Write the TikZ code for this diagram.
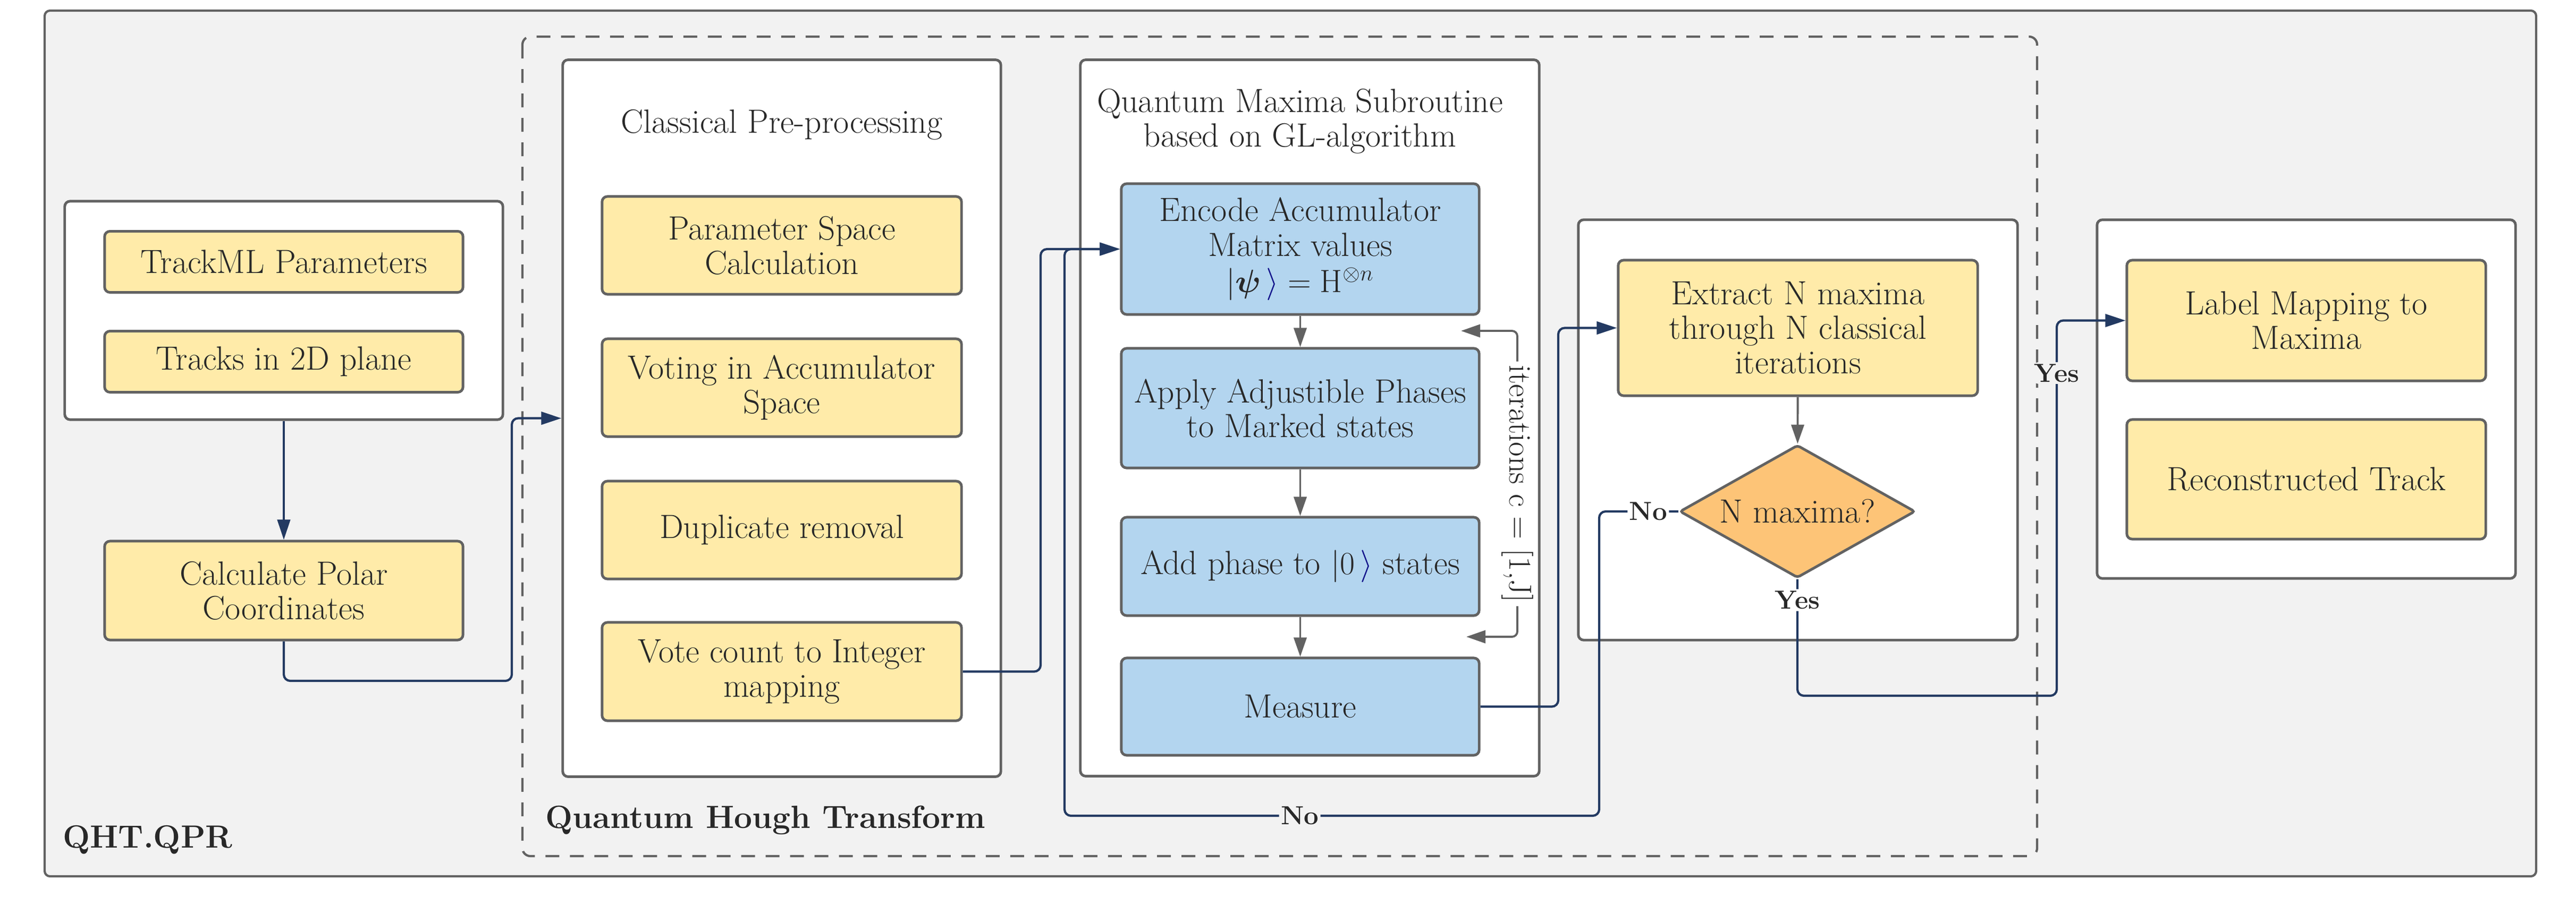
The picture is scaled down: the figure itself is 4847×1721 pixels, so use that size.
\documentclass[tikz,border=0pt]{standalone}
\usepackage{amsmath,amssymb}
\usepackage{tikz}
\usetikzlibrary{shapes.geometric}
\usetikzlibrary{arrows.meta}
\definecolor{bggray}{HTML}{F2F2F2}
\definecolor{edge}{HTML}{626262}
\definecolor{txt}{HTML}{282828}
\definecolor{boxyellow}{HTML}{FFEBA9}
\definecolor{boxblue}{HTML}{B3D5EF}
\definecolor{decorange}{HTML}{FDC477}
\definecolor{navy}{HTML}{233A62}
\definecolor{ketblue}{HTML}{10108A}
\newcommand{\boxfont}{\fontsize{18}{18.5}\selectfont}
\newcommand{\itfont}{\fontsize{17}{18}\selectfont}
\newcommand{\headfont}{\fontsize{17.2}{18}\selectfont\bfseries}
\newcommand{\lblfont}{\fontsize{14}{15}\selectfont\bfseries}

\begin{document}
\begin{tikzpicture}[x=0.01cm,y=-0.01cm,
  panel/.style={draw=edge,line width=1.4pt,fill=white,rounded corners=0.1cm,inner sep=0},
  ybox/.style={draw=edge,line width=1.4pt,fill=boxyellow,rounded corners=0.1cm,minimum width=6.74cm,align=center,text=txt,font=\boxfont},
  bbox/.style={ybox,fill=boxblue,minimum width=6.73cm},
  title/.style={align=center,text=txt,font=\boxfont},
  flow/.style={draw=navy,line width=1.2pt,rounded corners=0.12cm,-{Triangle[length=0.38cm,width=0.24cm]}},
  grayflow/.style={draw=edge,line width=1.1pt,-{Triangle[length=0.36cm,width=0.24cm]}},
  lbl/.style={text=txt,font=\lblfont,inner sep=1pt}]
\useasboundingbox (0,0) rectangle (4847,1721);
% frames
\draw[edge,fill=bggray,line width=1.2pt,rounded corners=0.1cm] (84,20) rectangle (4772,1650);
\draw[edge,line width=1.2pt,dashed,dash pattern=on 0.26cm off 0.2cm,rounded corners=0.15cm] (983,69) rectangle (3833,1612);
\node[text=txt,font=\headfont,anchor=west] (qpr) at (106,1581) {QHT.QPR};
\node[text=txt,font=\headfont,anchor=west] (qht) at (1014,1544) {Quantum Hough Transform};

% panels
\node[panel,minimum width=8.24cm,minimum height=4.11cm] (inbox) at (534,584.5) {};
\node[panel,minimum width=8.24cm,minimum height=13.49cm] (classical) at (1471,787.5) {};
\node[panel,minimum width=8.63cm,minimum height=13.48cm] (qms) at (2464.5,787) {};
\node[panel,minimum width=8.26cm,minimum height=7.91cm] (extbox) at (3383,809.5) {};
\node[panel,minimum width=7.87cm,minimum height=6.75cm] (outbox) at (4339.5,751.5) {};

% input
\node[ybox,minimum height=1.15cm] (trackml) at (534,493) {TrackML Parameters};
\node[ybox,minimum height=1.15cm] (tracks) at (534,681) {Tracks in 2D plane};
\node[ybox,minimum height=1.86cm] (polar) at (534,1112) {Calculate Polar\\Coordinates};

% classical pre-processing
\node[title] (ctitle) at (1471,235) {Classical Pre-processing};
\node[ybox,minimum width=6.76cm,minimum height=1.84cm] (param) at (1471,462) {Parameter Space\\Calculation};
\node[ybox,minimum width=6.76cm,minimum height=1.84cm] (voting) at (1471,730) {Voting in Accumulator\\Space};
\node[ybox,minimum width=6.76cm,minimum height=1.84cm] (dup) at (1471,998) {Duplicate removal};
\node[ybox,minimum width=6.76cm,minimum height=1.85cm] (vote) at (1471,1264.5) {Vote count to Integer\\mapping};

% quantum maxima subroutine
\node[title] (qtitle) at (2446,228) {Quantum Maxima Subroutine\\based on GL-algorithm};
\node[bbox,minimum height=2.46cm] (encode) at (2446.5,469) {Encode Accumulator\\Matrix values\\[1pt]$|\boldsymbol{\psi}\,\textcolor{ketblue}{\rangle}=\mathrm{H}^{\otimes n}$};
\node[bbox,minimum height=2.25cm] (apply) at (2446.5,768.5) {Apply Adjustible Phases\\to Marked states};
\node[bbox,minimum height=1.85cm] (addph) at (2446.5,1066.5) {Add phase to $|0\,\textcolor{ketblue}{\rangle}$ states};
\node[bbox,minimum height=1.83cm] (measure) at (2446.5,1330.5) {Measure};

% maxima extraction
\node[ybox,minimum width=6.76cm,minimum height=2.55cm] (extract) at (3383,617.5) {Extract N maxima\\through N classical\\iterations};
\node[diamond,draw=edge,line width=1.4pt,fill=decorange,text=txt,font=\boxfont,aspect=1.77,inner sep=0,minimum width=4.43cm,minimum height=2.5cm,rounded corners=0.05cm] (decide) at (3382,963) {N maxima?};

% output
\node[ybox,minimum width=6.75cm,minimum height=2.27cm] (labelmap) at (4339.5,603.5) {Label Mapping to\\Maxima};
\node[ybox,minimum width=6.75cm,minimum height=2.25cm] (recon) at (4339.5,902.5) {Reconstructed Track};

% connectors
\coordinate (c1) at (963,1282);
\coordinate (c2) at (1958,1264.5);
\coordinate (c3) at (2932,1330.5);
\coordinate (n1) at (3009,1536);
\coordinate (n2) at (2003,1536);
\coordinate (y1) at (3382,1310);
\coordinate (y2) at (3870,1310);
\coordinate (y3) at (3870,603.5);
\draw[flow] (inbox.south) -- (polar.north);
\draw[flow] (polar.south) |- (c1) |- (classical.west);
\draw[flow] (vote.east) -- (c2) |- (encode.west);
\draw[flow] (measure.east) -- (c3) |- (extract.west);
\draw[flow] (decide.west) -| node[lbl,fill=white,pos=0.19]{No} (n1) -- node[lbl,fill=bggray,pos=0.56]{No} (n2) |- (encode.west);
\draw[flow] (decide.south) -- node[lbl,fill=white,pos=0.18]{Yes} (y1) -- (y2) -- node[lbl,fill=bggray,pos=0.86]{Yes} (y3) -- (labelmap.west);

% inner steps
\draw[grayflow] (encode) -- (apply);
\draw[grayflow] (apply) -- (addph);
\draw[grayflow] (addph) -- (measure);
\draw[grayflow] (extract) -- (decide);
\coordinate (it1) at (2749,623);
\coordinate (it2) at (2855,623);
\coordinate (it3) at (2855,1199);
\coordinate (it4) at (2759,1199);
\draw[grayflow,{Triangle[length=0.36cm,width=0.24cm]}-{Triangle[length=0.36cm,width=0.24cm]},rounded corners=0.1cm] (it1) -- (it2) -- node[fill=white,rotate=-90,text=txt,font=\itfont,inner sep=2pt]{iterations c = [1,J]} (it3) -- (it4);
\end{tikzpicture}
\end{document}
